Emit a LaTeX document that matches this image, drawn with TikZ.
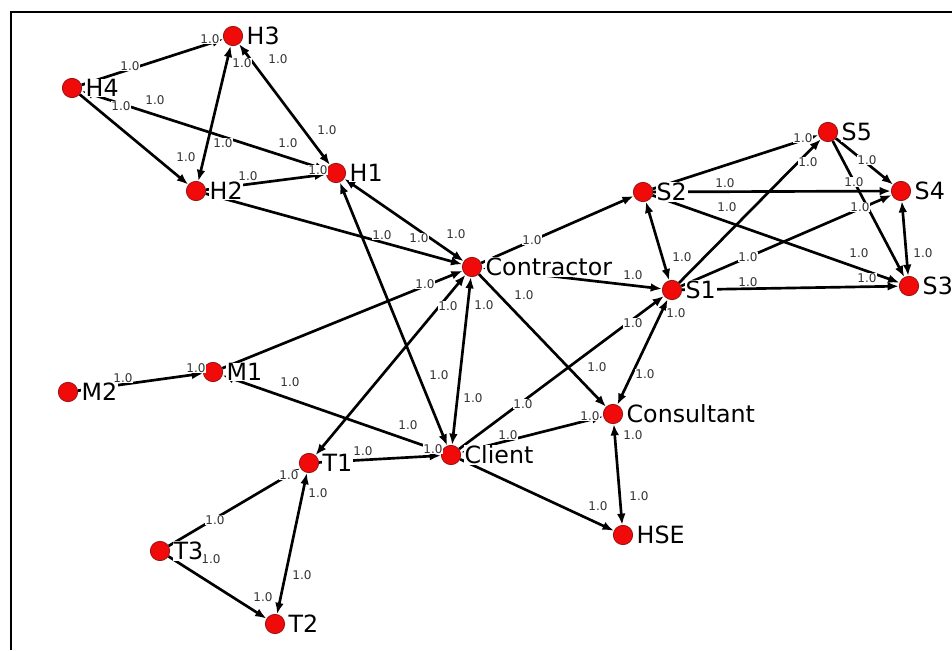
\documentclass[tikz,border=0pt]{standalone}
\usepackage{fontspec}
\setmainfont{DejaVu Sans}
\usetikzlibrary{arrows.meta,positioning}
\definecolor{DotRed}{RGB}{240,10,10}
\definecolor{DotEdge}{RGB}{150,20,20}

\begin{document}
\begin{tikzpicture}[x=0.75pt,y=-0.75pt,
  actor/.style={circle,fill=DotRed,draw=DotEdge,line width=0.6pt,minimum size=14.5pt,inner sep=0pt},
  actorname/.style={fill=white,inner sep=0.5pt,font=\fontsize{17.8}{20}\selectfont},
  tie/.style={line width=2pt,-{Latex[length=8.5pt,width=6.5pt]}},
  mutual/.style={line width=2pt,{Latex[length=8.5pt,width=6.5pt]}-{Latex[length=8.5pt,width=6.5pt]}},
  wt/.style={fill=white,inner sep=0.3pt,text=black!80,font=\fontsize{9}{10}\selectfont}]
\useasboundingbox (0,0) rectangle (952,650);
\draw[line width=1.5pt] (11,650)--(11,12)--(952,12);

% actors
\foreach \n/\x/\y in {H3/233/36, H4/72/88, H2/196/191, H1/336/173,
  Contractor/472/267, S2/643/192, S5/828/132, S4/901/191, S1/672/290,
  S3/909/286, M2/68/392, M1/213/372, T1/309/463, T3/160/551, T2/275/624,
  Client/451/455, Consultant/613/414, HSE/623/535}
  \node[actor] (\n) at (\x,\y) {};

% ties
\foreach \a/\b in {H4/H3, H4/H2, H2/H1, H2/Contractor, M1/Contractor, M2/M1,
  T1/Client, T3/T1, T3/T2, Contractor/S2, Contractor/Consultant, Client/S1,
  Client/HSE, S2/S5, S2/S4, S2/S3, S1/S5, S1/S4, S1/S3, S5/S4, S5/S3}
  \draw[tie] (\a) -- (\b);
\foreach \a/\b in {H3/H2, H3/H1, H4/H1, H1/Client, H1/Contractor,
  Contractor/Client, Contractor/T1, Contractor/S1, T1/T2,
  Client/Consultant, M1/Client, S1/Consultant, Consultant/HSE, S2/S1, S4/S3}
  \draw[mutual] (\a) -- (\b);

% tie values
\foreach \x/\y [count=\i] in {210/39, 130/66, 242/63, 278/59, 121/106, 155/100,
  223/143, 186/157, 288/143, 327/130, 248/176, 318/170,
  382/235, 419/238, 456/234, 532/240, 425/284, 448/306, 484/305, 524/295,
  633/275, 682/257, 676/313, 633/323, 439/375, 473/398, 290/382, 408/425,
  433/449, 363/451, 289/475, 318/493, 523/404, 597/367, 645/374, 508/435,
  590/416, 633/435, 639/496, 598/506, 215/520, 211/559, 302/575, 263/597,
  123/378, 196/368, 803/138, 808/162, 725/183, 727/207, 867/160, 854/182,
  860/207, 748/257, 859/253, 923/253, 748/282, 867/278}
  \node[wt] (w\i) at (\x,\y) {1.0};

% names
\foreach \n in {H3, H4, H2, H1, Contractor, S2, S5, S4, S1, S3, M2, M1,
  T1, T3, T2, Client, Consultant, HSE}
  \node[actorname,right=2pt of \n] (\n-name) {\n};
\end{tikzpicture}
\end{document}
